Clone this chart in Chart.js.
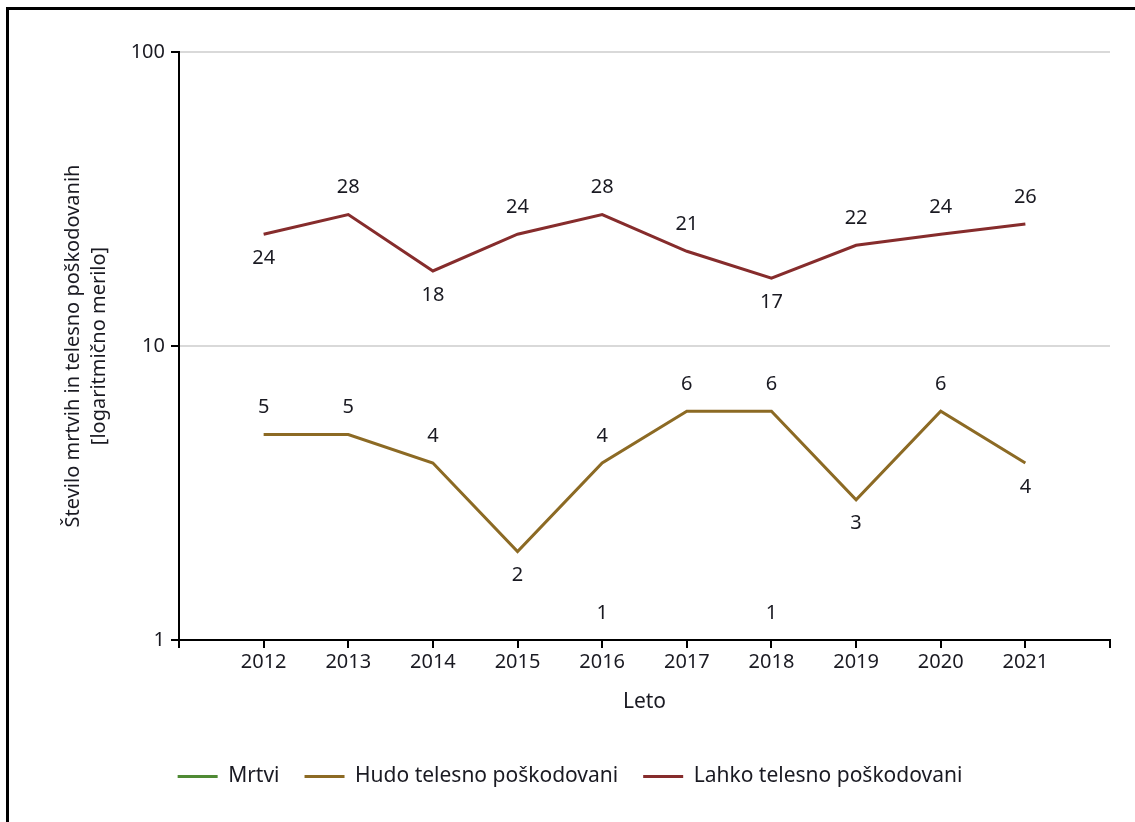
<!DOCTYPE html>
<html>
<head>
<meta charset="utf-8">
<script src="https://cdn.jsdelivr.net/npm/chart.js@4/dist/chart.umd.min.js"></script>
<style>
  html, body { margin: 0; padding: 0; background: #fff; overflow: hidden; }
  #wrap { position: relative; width: 1135px; height: 822px; }
  #frame { position: absolute; left: 6px; top: 7px; width: 1200px; height: 900px;
           border-left: 3px solid #000; border-top: 3px solid #000; pointer-events: none; }
  canvas { position: absolute; left: 0; top: 0; }
</style>
</head>
<body>
<div id="wrap">
  <canvas id="chart" width="1135" height="822"></canvas>
  <div id="frame"></div>
</div>
<script>
const years = [2012, 2013, 2014, 2015, 2016, 2017, 2018, 2019, 2020, 2021];
const mrtvi = [null, null, null, null, 1, null, 1, null, null, null];
const hudo = [5, 5, 4, 2, 4, 6, 6, 3, 6, 4];
const lahko = [24, 28, 18, 24, 28, 21, 17, 22, 24, 26];
const yTickValues = [1, 10, 100];

// where each value label sits relative to its point
const mrtviLabelPos = ["up", "up", "up", "up", "up", "up", "up", "up", "up", "up"];
const hudoLabelPos = ["up", "up", "up", "down", "up", "up", "up", "down", "up", "down"];
const lahkoLabelPos = ["down", "up", "down", "up", "up", "up", "down", "up", "up", "up"];

const FONT = "'Noto Sans', 'Liberation Sans', sans-serif";
const TEXT = "#1a1a22";

const toPoints = (vals) => years.map((y, i) => ({ x: y, y: vals[i] }));

const valueLabels = {
    id: "valueLabels",
    afterDatasetsDraw(chart) {
        const ctx = chart.ctx;
        ctx.save();
        ctx.font = "20px " + FONT;
        ctx.fillStyle = TEXT;
        ctx.textAlign = "center";
        ctx.textBaseline = "middle";
        chart.data.datasets.forEach((ds, di) => {
            const meta = chart.getDatasetMeta(di);
            meta.data.forEach((pt, i) => {
                const v = ds.data[i].y;
                if (v === null) return;
                const dy = ds.labelPos[i] === "up" ? -27 : 24;
                ctx.fillText(String(v), pt.x, pt.y + dy);
            });
        });
        ctx.restore();
    }
};

new Chart(document.getElementById("chart"), {
    type: "line",
    data: {
        datasets: [
            { label: "Mrtvi", data: toPoints(mrtvi), labelPos: mrtviLabelPos,
              borderColor: "#4f8a34", backgroundColor: "#4f8a34", borderWidth: 3, pointRadius: 0, spanGaps: false },
            { label: "Hudo telesno poškodovani", data: toPoints(hudo), labelPos: hudoLabelPos,
              borderColor: "#8c6a24", backgroundColor: "#8c6a24", borderWidth: 3, pointRadius: 0 },
            { label: "Lahko telesno poškodovani", data: toPoints(lahko), labelPos: lahkoLabelPos,
              borderColor: "#862c2c", backgroundColor: "#862c2c", borderWidth: 3, pointRadius: 0 },
        ],
    },
    options: {
        responsive: false,
        animation: false,
        layout: { padding: { left: 30, top: 52, right: 25, bottom: 25 } },
        plugins: {
            tooltip: { enabled: false },
            legend: {
                position: "bottom",
                labels: {
                    usePointStyle: true,
                    pointStyle: "line",
                    pointStyleWidth: 40,
                    padding: 25,
                    color: TEXT,
                    font: { family: FONT, size: 21 },
                },
            },
        },
        scales: {
            x: {
                type: "linear",
                min: 2011,
                max: 2022,
                afterFit: (s) => { s.height = 101; },
                ticks: {
                    stepSize: 1,
                    color: TEXT,
                    font: { family: FONT, size: 20 },
                    padding: 2,
                    callback: (v) => (v >= years[0] && v <= years[years.length - 1]) ? String(v) : "",
                },
                grid: { drawOnChartArea: false, color: "#000", lineWidth: 2, tickLength: 8 },
                border: { color: "#000", width: 2 },
                title: {
                    display: true,
                    text: "Leto",
                    color: TEXT,
                    font: { family: FONT, size: 21 },
                    padding: { top: 0, bottom: 26 },
                },
            },
            y: {
                type: "logarithmic",
                min: 1,
                max: 100,
                afterFit: (s) => { s.width = 149; },
                afterBuildTicks: (s) => { s.ticks = yTickValues.map(v => ({ value: v })); },
                ticks: {
                    color: TEXT,
                    font: { family: FONT, size: 20 },
                    padding: 6,
                    callback: (v) => String(v),
                },
                grid: {
                    color: (c) => c.tick && c.tick.value === 1 ? "#000" : "#d9d9d9",
                    lineWidth: 2,
                    tickColor: "#000",
                    tickLength: 8,
                },
                border: { color: "#000", width: 2 },
                title: {
                    display: true,
                    text: ["Število mrtvih in telesno poškodovanih", "[logaritmično merilo]"],
                    color: TEXT,
                    font: { family: FONT, size: 20, lineHeight: 1.3 },
                    padding: { top: 30, bottom: 0 },
                },
            },
        },
    },
    plugins: [valueLabels],
});
</script>
</body>
</html>
